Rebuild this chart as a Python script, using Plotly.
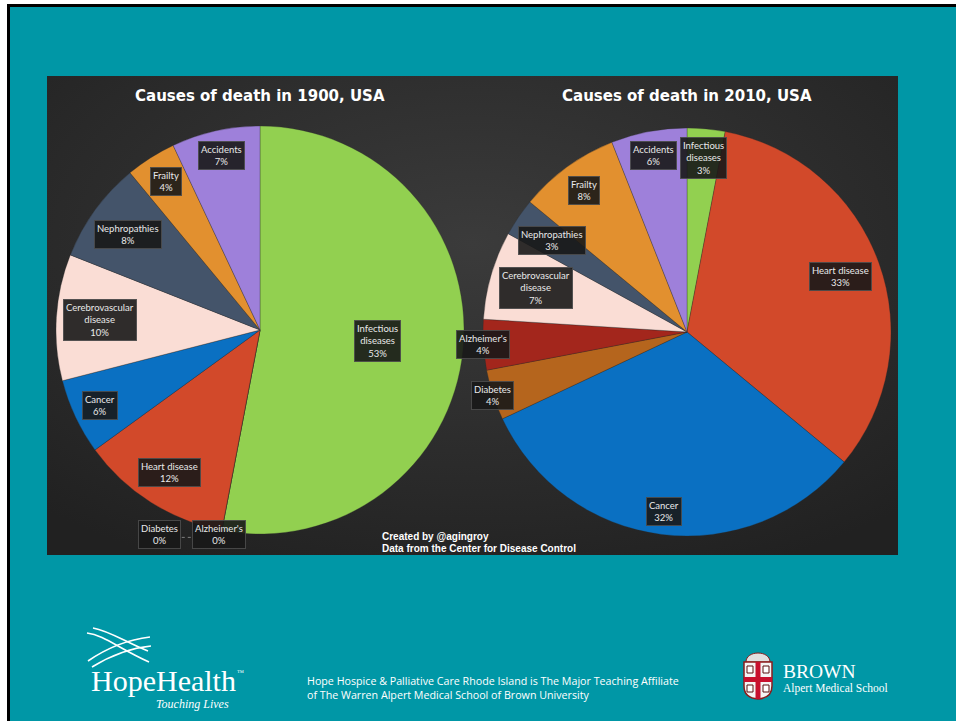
import base64
import math
import plotly.graph_objects as go

W, H = 956, 721

# ---------------- data ----------------
titles = ["Causes of death in 1900, USA", "Causes of death in 2010, USA"]
labels_1900 = ["Infectious diseases", "Alzheimer's", "Diabetes", "Heart disease", "Cancer",
               "Cerebrovascular disease", "Nephropathies", "Frailty", "Accidents"]
values_1900 = [53, 0, 0, 12, 6, 10, 8, 4, 7]
labels_2010 = ["Infectious diseases", "Heart disease", "Cancer", "Diabetes", "Alzheimer's",
               "Cerebrovascular disease", "Nephropathies", "Frailty", "Accidents"]
values_2010 = [3, 33, 32, 4, 4, 7, 3, 8, 6]
credit_lines = ["Created by @agingroy", "Data from the Center for Disease Control"]

# ---------------- style ----------------
colors = {
    "Infectious diseases": "#92D050",
    "Heart disease": "#D2492A",
    "Cancer": "#0A70C2",
    "Diabetes": "#B5651D",
    "Alzheimer's": "#A3261C",
    "Cerebrovascular disease": "#FADDD5",
    "Nephropathies": "#44546A",
    "Frailty": "#E2902F",
    "Accidents": "#9E80DA",
}
TEAL = "#0097A6"
pies = [dict(cx=260, cy=330, r=204), dict(cx=687, cy=332, r=204)]


def X(px):
    return px / W


def Y(py):
    return 1 - py / H


def wrap(label):
    if len(label) > 14:
        return "<br>".join(label.split(" "))
    return label


fig = go.Figure()
annotations = []
shapes = []

for k, (labels, values) in enumerate([(labels_1900, values_1900), (labels_2010, values_2010)]):
    g = pies[k]
    cx, cy, R = g["cx"], g["cy"], g["r"]
    fig.add_trace(go.Pie(
        labels=labels, values=values, sort=False, direction="clockwise", rotation=0,
        textinfo="none", hoverinfo="label+percent", showlegend=False,
        marker=dict(colors=[colors[l] for l in labels],
                    line=dict(color="rgba(40,40,40,0.5)", width=0.6)),
        domain=dict(x=[X(cx - R), X(cx + R)], y=[Y(cy + R), Y(cy - R)]),
    ))
    annotations.append(dict(
        text="<b>" + titles[k] + "</b>", x=X(cx), y=Y(96), xref="paper", yref="paper",
        showarrow=False, font=dict(family="DejaVu Sans", size=15, color="#ffffff"),
        xanchor="center", yanchor="middle"))

    total = float(sum(values))
    cum = 0.0
    zero_count = 0
    for lab, v in zip(labels, values):
        p = v / total
        th = 2 * math.pi * (cum + p / 2)
        lines = wrap(lab).split("<br>") + [f"{round(p * 100)}%"]
        text = "<br>".join(lines)
        box = dict(xref="paper", yref="paper", showarrow=False, text=text,
                   font=dict(family="Lato", size=9.5, color="#e9e9e9"),
                   bgcolor="rgba(24,24,24,0.9)", bordercolor="rgba(75,75,75,0.9)",
                   borderwidth=1, borderpad=2, xanchor="center", yanchor="middle", align="center")
        if v == 0:
            ex = cx + R * math.sin(th)
            ey = cy - R * math.cos(th)
            lx = ex - 3 - 59 * zero_count
            ly = ey + 4
            box.update(x=X(lx), y=Y(ly))
            annotations.append(box)
            if zero_count > 0:
                shapes.append(dict(type="line", xref="paper", yref="paper",
                                   x0=X(lx + 22), x1=X(lx + 33), y0=Y(ly + 3), y1=Y(ly + 3),
                                   line=dict(color="rgba(150,150,150,0.8)", width=1, dash="dot")))
            zero_count += 1
        else:
            # approximate box size, then keep the box just inside the rim (Excel "best fit")
            bw = 4.5 * max(len(s) for s in lines) + 6
            bh = 12.5 * len(lines) + 4
            extent = abs(math.sin(th)) * bw / 2 + abs(math.cos(th)) * bh / 2
            if p > 0.4:
                r = 0.58 * R
            elif p <= 0.045 and abs(math.sin(th)) > 0.95:
                r = 1.0 * R  # thin side slices: label pushed onto the rim
            else:
                r = 0.97 * R - extent
            lx = cx + r * math.sin(th)
            ly = cy - r * math.cos(th)
            box.update(x=X(lx), y=Y(ly))
            annotations.append(box)
        cum += p

# credits
for i, line in enumerate(credit_lines):
    annotations.append(dict(text="<b>" + line + "</b>", x=X(380), y=Y(536 + 12 * i),
                            xref="paper", yref="paper", showarrow=False, xanchor="left",
                            yanchor="middle",
                            font=dict(family="Liberation Sans", size=10, color="#ffffff")))

# footer texts
foot = [
    dict(text="HopeHealth", x=89, y=680, size=30, family="Liberation Serif", anchor="left"),
    dict(text="™", x=235, y=673, size=7, family="Liberation Serif", anchor="left"),
    dict(text="<i>Touching Lives</i>", x=231, y=704, size=12, family="Liberation Serif", anchor="right"),
    dict(text="Hope Hospice & Palliative Care Rhode Island is The Major Teaching Affiliate"
              "<br>of The Warren Alpert Medical School of Brown University",
         x=305, y=688, size=10.7, family="Open Sans", anchor="left"),
    dict(text="BROWN", x=781, y=671, size=19.5, family="Liberation Serif", anchor="left"),
    dict(text="Alpert Medical School", x=781, y=688, size=11.5, family="Liberation Serif", anchor="left"),
]
for t in foot:
    annotations.append(dict(text=t["text"], x=X(t["x"]), y=Y(t["y"]), xref="paper", yref="paper",
                            showarrow=False, xanchor=t["anchor"], yanchor="middle", align="left",
                            font=dict(family=t["family"], size=t["size"], color="#ffffff")))


def P(d):
    # convert an svg path in pixel coords to paper coords
    out = []
    for tok in d.split():
        if "," in tok:
            a, b = tok.split(",")
            out.append(f"{X(float(a)):.5f},{Y(float(b)):.5f}")
        else:
            out.append(tok)
    return " ".join(out)


# slide frame
frame = [
    dict(x0=0, x1=7, y0=0, y1=H, c="#ffffff"),
    dict(x0=0, x1=W, y0=0, y1=4, c="#ffffff"),
    dict(x0=7, x1=10, y0=4, y1=H, c="#000000"),
    dict(x0=7, x1=W, y0=4, y1=7, c="#000000"),
]
for f_ in frame:
    shapes.append(dict(type="rect", xref="paper", yref="paper", x0=X(f_["x0"]), x1=X(f_["x1"]),
                       y0=Y(f_["y0"]), y1=Y(f_["y1"]), fillcolor=f_["c"], line=dict(width=0),
                       layer="below"))

# HopeHealth waves
waves = [
    "M 87,633 C 104,635 118,648 149,662",
    "M 93,628 C 110,631 127,643 148,651",
    "M 88,661 C 104,650 124,640 150,637",
    "M 92,667 C 110,656 130,648 151,646",
]
for w in waves:
    shapes.append(dict(type="path", xref="paper", yref="paper", path=P(w),
                       line=dict(color="#ffffff", width=1.6)))

# Brown shield
shapes += [
    dict(type="path", xref="paper", yref="paper",
         path=P("M 746,662 C 746,650 770,650 770,662 Z"),
         fillcolor="#e0e0e0", line=dict(color="#8a1c1c", width=1)),
    dict(type="path", xref="paper", yref="paper",
         path=P("M 744,662 L 772,662 L 772,686 Q 772,698 758,699 Q 744,698 744,686 Z"),
         fillcolor="#f4f4f4", line=dict(color="#8a1c1c", width=1.5)),
    dict(type="rect", xref="paper", yref="paper", x0=X(755.5), x1=X(760.5), y0=Y(662), y1=Y(699),
         fillcolor="#c8102e", line=dict(width=0)),
    dict(type="rect", xref="paper", yref="paper", x0=X(744), x1=X(772), y0=Y(677), y1=Y(682),
         fillcolor="#c8102e", line=dict(width=0)),
]
for bx, by in [(747, 666), (763, 666), (747, 685), (763, 685)]:
    shapes.append(dict(type="rect", xref="paper", yref="paper", x0=X(bx), x1=X(bx + 6),
                       y0=Y(by), y1=Y(by + 7), fillcolor="#ffffff",
                       line=dict(color="#5a1010", width=1)))

# dark panel with soft radial gradient
pw, ph = 851, 479
svg = (f'<svg xmlns="http://www.w3.org/2000/svg" width="{pw}" height="{ph}">'
       '<defs><radialGradient id="g" cx="50%" cy="35%" r="75%">'
       '<stop offset="0" stop-color="#3b3b3b"/><stop offset="1" stop-color="#212121"/>'
       '</radialGradient></defs>'
       f'<rect width="{pw}" height="{ph}" fill="url(#g)"/></svg>')
src = "data:image/svg+xml;base64," + base64.b64encode(svg.encode()).decode()

fig.update_layout(
    width=W, height=H, margin=dict(l=0, r=0, t=0, b=0),
    paper_bgcolor=TEAL, plot_bgcolor=TEAL,
    annotations=annotations, shapes=shapes,
    images=[dict(source=src, xref="paper", yref="paper", x=X(47), y=Y(76),
                 sizex=pw / W, sizey=ph / H, xanchor="left", yanchor="top",
                 sizing="stretch", layer="below")],
)

fig.write_html("out.html", config={"displayModeBar": False},
               post_script="document.body.style.margin='0';document.body.style.overflow='hidden';")
